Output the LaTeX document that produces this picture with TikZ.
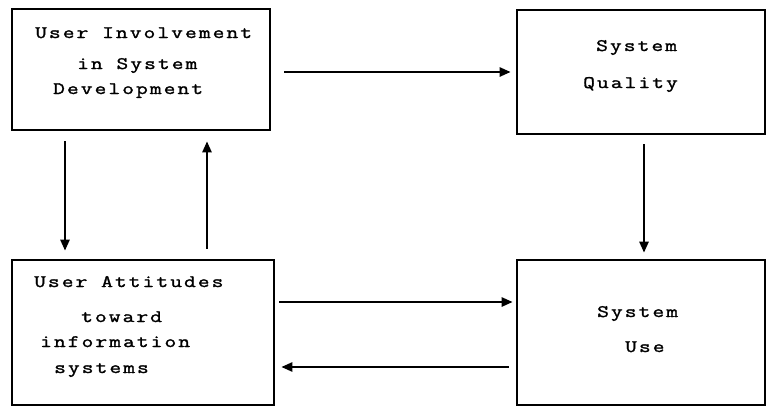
\documentclass[tikz,border=0pt]{standalone}
\usepackage{fontspec}
\newfontfamily\tw{Latin Modern Mono}[LetterSpace=12,FakeBold=1.6,FakeStretch=1.3]
\usetikzlibrary{calc,arrows.meta}
\begin{document}
\begin{tikzpicture}[x=1pt,y=-1pt,
  box/.style={draw,line width=2.6pt,rectangle,inner sep=0pt},
  lbl/.style={anchor=base west,inner sep=0pt,font=\tw\fontsize{17.5}{20}\selectfont},
  arr/.style={line width=2.4pt,-{Triangle[length=11pt,width=9pt]}}]
\useasboundingbox (0,0) rectangle (767,407);
\node[box,minimum width=258,minimum height=121] (A) at (141,69.5) {};
\node[box,minimum width=248,minimum height=124] (B) at (641,72) {};
\node[box,minimum width=262,minimum height=145] (C) at (143,332.5) {};
\node[box,minimum width=248,minimum height=145] (D) at (641,332.5) {};
% texts
\node[lbl] (a1) at (35,38) {User Involvement};
\node[lbl] (a2) at (77,69) {in System};
\node[lbl] (a3) at (53,94) {Development};
\node[lbl] (b1) at (596,51) {System};
\node[lbl] (b2) at (583,88) {Quality};
\node[lbl] (c1) at (34,287) {User Attitudes};
\node[lbl] (c2) at (81,322) {toward};
\node[lbl] (c3) at (40,347) {information};
\node[lbl] (c4) at (54,373) {systems};
\node[lbl] (d1) at (597,317) {System};
\node[lbl] (d2) at (625,352) {Use};
% arrows
\draw[arr] ($(A.east)+(13,2.5)$) -- ($(B.west)+(-5,0)$);
\draw[arr] ($(A.south)+(-76,10)$) -- ($(C.north)+(-78,-8)$);
\draw[arr] ($(C.north)+(64,-10)$) -- ($(A.south)+(66,10)$);
\draw[arr] ($(B.south)+(3,9)$) -- ($(D.north)+(3,-6)$);
\draw[arr] ($(C.east)+(4,-30.5)$) -- ($(D.west)+(-3,-30.5)$);
\draw[arr] ($(D.west)+(-7,34.5)$) -- ($(C.east)+(6,34.5)$);
\end{tikzpicture}
\end{document}
